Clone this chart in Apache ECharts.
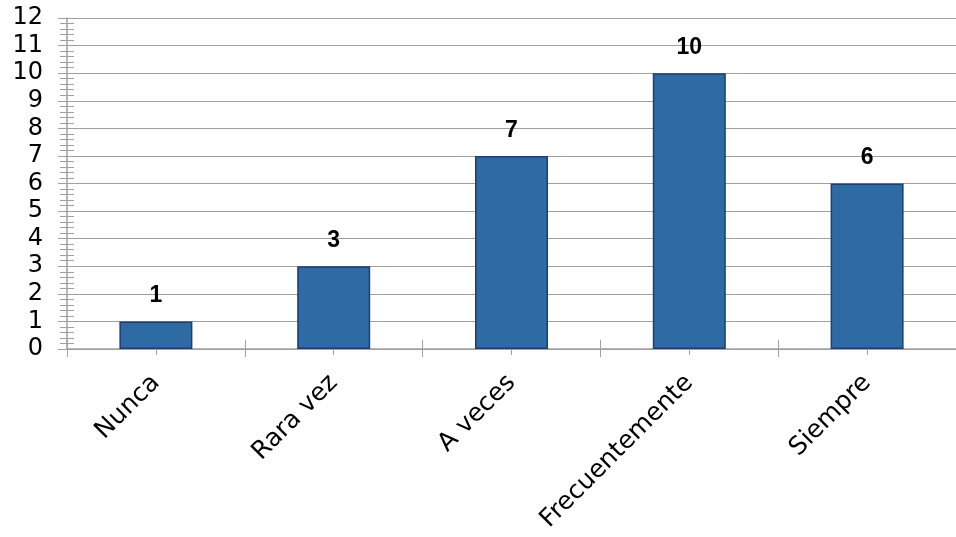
<!DOCTYPE html>
<html>
<head>
<meta charset="utf-8">
<script src="https://cdn.jsdelivr.net/npm/echarts@6/dist/echarts.min.js"></script>
<style>html,body{margin:0;padding:0;background:#fff;}#c{width:956px;height:537px;}</style>
</head>
<body>
<div id="c"></div>
<script>
var categories = ['Nunca', 'Rara vez', 'A veces', 'Frecuentemente', 'Siempre'];
var values = [1, 3, 7, 10, 6];
var yMin = 0, yMax = 12, yStep = 1;

var chart = echarts.init(document.getElementById('c'));
var gray = '#A0A0A0';
var font = 'DejaVu Sans, Liberation Sans, Arial, sans-serif';
var boldFont = 'Liberation Sans, Arial, sans-serif';
chart.setOption({
  animation: false,
  grid: { left: 67, right: 0, top: 18, bottom: 188 },
  xAxis: [{
    type: 'category', data: categories,
    axisLine: { lineStyle: { color: gray, width: 1.5 } },
    axisTick: { show: true, alignWithLabel: false, length: 8, lineStyle: { color: gray } },
    axisLabel: { rotate: 45, margin: 30, fontSize: 25, color: '#000', fontFamily: font }
  }, {
    type: 'category', data: categories, position: 'bottom',
    axisLine: { show: false },
    axisTick: { show: true, alignWithLabel: true, length: 6, lineStyle: { color: gray } },
    axisLabel: { show: false }
  }, {
    type: 'category', data: categories, position: 'bottom',
    axisLine: { show: false },
    axisTick: { show: true, inside: true, alignWithLabel: false, length: 9, lineStyle: { color: gray } },
    axisLabel: { show: false }
  }, {
    type: 'category', data: categories, position: 'bottom',
    axisLine: { show: false },
    axisTick: { show: true, inside: true, alignWithLabel: true, length: 7, lineStyle: { color: gray } },
    axisLabel: { show: false }
  }],
  yAxis: [{
    type: 'value', min: yMin, max: yMax, interval: yStep,
    axisLine: { show: true, lineStyle: { color: gray, width: 1.5 } },
    axisTick: { show: true, length: 9, lineStyle: { color: gray } },
    minorTick: { show: true, splitNumber: 5, length: 7, lineStyle: { color: gray } },
    splitLine: { show: true, lineStyle: { color: gray, width: 1.2 } },
    axisLabel: { margin: 24, fontSize: 24, color: '#000', fontFamily: font }
  }, {
    type: 'value', min: yMin, max: yMax, interval: yStep, position: 'left',
    axisLine: { show: false },
    axisTick: { show: true, inside: true, length: 7, lineStyle: { color: gray } },
    minorTick: { show: true, splitNumber: 5, length: 7, lineStyle: { color: gray } },
    splitLine: { show: false },
    axisLabel: { show: false }
  }],
  series: [{
    type: 'bar', data: values, barWidth: 73, xAxisIndex: 0, yAxisIndex: 0,
    itemStyle: { color: '#2E6BA4', borderColor: '#1F3D6E', borderWidth: 1.5 },
    label: { show: true, position: 'top', distance: 14, fontSize: 23, fontWeight: 'bold', color: '#000', fontFamily: boldFont }
  }]
});
</script>
</body>
</html>
